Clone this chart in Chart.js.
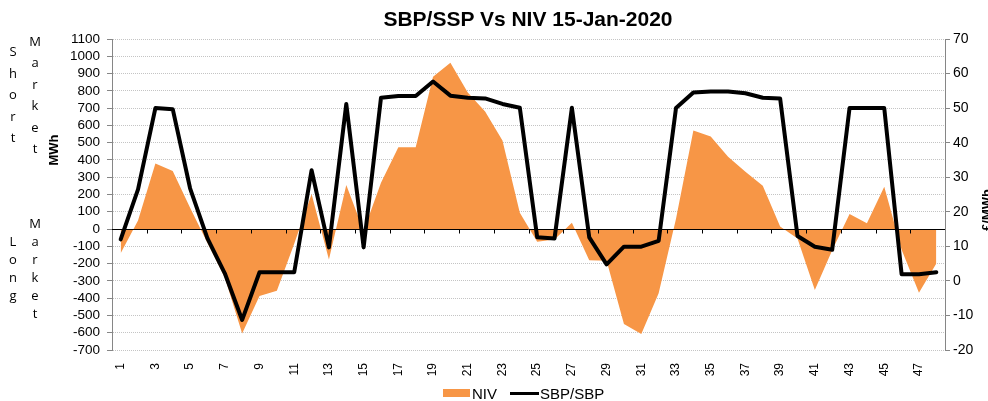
<!DOCTYPE html>
<html>
<head>
<meta charset="utf-8">
<script src="https://cdn.jsdelivr.net/npm/chart.js@4.4.1/dist/chart.umd.min.js"></script>
<style>
  body { margin: 0; background: #fff; font-family: "Liberation Sans", Arial, sans-serif; }
  .wrap { position: relative; width: 988px; height: 401px; overflow: hidden; }
  .title { position: absolute; top: 7px; left: 0; width: 1056px; text-align: center; font-weight: bold; font-size: 21px; line-height: 24px; color: #000; }
  .side { position: absolute; width: 20px; text-align: center; font-size: 13px; color: #000; font-family: "Open Sans", sans-serif; }
  .legend { position: absolute; top: 384px; left: 443px; height: 18px; display: flex; align-items: center; font-size: 15px; color: #000; }
  .swatch { width: 27px; height: 8px; background: #f79646; margin-right: 2px; }
  .dash { width: 29px; height: 3px; background: #000; margin-left: 13px; margin-right: 1px; }
</style>
</head>
<body>
<div class="wrap">
  <canvas id="chart" width="988" height="401"></canvas>
  <div class="title">SBP/SSP Vs NIV 15-Jan-2020</div>
  <!-- short / long market notes, stacked letter by letter like the original -->
  <div class="side" style="left:3px;top:41px;line-height:21.5px">S<br>h<br>o<br>r<br>t</div>
  <div class="side" style="left:25px;top:31px;line-height:21.4px">M<br>a<br>r<br>k<br>e<br>t</div>
  <div class="side" style="left:3px;top:232px;line-height:18px">L<br>o<br>n<br>g</div>
  <div class="side" style="left:25px;top:214px;line-height:18px">M<br>a<br>r<br>k<br>e<br>t</div>
  <div class="legend">
    <div class="swatch"></div><span>NIV</span>
    <div class="dash"></div><span>SBP/SBP</span>
  </div>
</div>
<script>
// settlement periods
const periods = [1, 2, 3, 4, 5, 6, 7, 8, 9, 10, 11, 12, 13, 14, 15, 16, 17, 18, 19, 20, 21, 22, 23, 24,
                 25, 26, 27, 28, 29, 30, 31, 32, 33, 34, 35, 36, 37, 38, 39, 40, 41, 42, 43, 44, 45, 46, 47, 48];

// net imbalance volume, MWh (left axis)
const niv = [-140, 50, 380, 336, 124, -80, -280, -604, -388, -357, -85, 203,
             -176, 255, -10, 268, 473, 473, 882, 963, 790, 680, 512, 95,
             -73, -60, 37, -180, -183, -550, -608, -372, 60, 570, 535, 419,
             332, 251, 15, -54, -353, -122, 87, 33, 245, -120, -369, -200];

// system price, £/MWh (right axis)
const sbp = [12, 26.5, 50, 49.7, 26.8, 12.3, 2.2, -11.3, 2.5, 2.5, 2.5, 32,
             9.7, 51.2, 9.7, 53, 53.5, 53.5, 57.7, 53.6, 53, 52.8, 51.2, 50.1,
             12.6, 12.3, 50.1, 12.6, 4.8, 9.9, 9.9, 11.6, 50, 54.5, 54.8, 54.8,
             54.3, 53, 52.8, 13, 9.9, 9, 50, 50, 50, 1.9, 1.9, 2.5];

// axis ranges
const mwhMin = -700, mwhMax = 1100, mwhStep = 100;
const priceMin = -20, priceMax = 70, priceStep = 10;

const font = 'Liberation Sans, Arial, sans-serif';

// zero line with the little category ticks, drawn over the area
const extras = {
    id: 'extras',
    afterDatasetDraw(chart, args) {
        if (args.index !== 0) return;
        const { ctx, chartArea } = chart;
        const y0 = Math.round(chart.scales.y.getPixelForValue(0)) + 0.5;
        const step = (chartArea.right - chartArea.left) / periods.length;
        ctx.save();
        ctx.strokeStyle = '#000';
        ctx.lineWidth = 1;
        ctx.beginPath();
        ctx.moveTo(chartArea.left, y0);
        ctx.lineTo(chartArea.right, y0);
        for (let k = 2; k < periods.length; k += 2) {
            const x = Math.round(chartArea.left + k * step) + 0.5;
            ctx.moveTo(x, y0);
            ctx.lineTo(x, y0 + 4);
        }
        ctx.stroke();
        ctx.restore();
    },
    afterDraw(chart) {
        const ctx = chart.ctx;
        ctx.save();
        ctx.fillStyle = '#000';
        ctx.font = 'bold 13px ' + font;
        ctx.textAlign = 'center';
        ctx.textBaseline = 'top';
        ctx.translate(48, 150);
        ctx.rotate(-Math.PI / 2);
        ctx.fillText('MWh', 0, 0);
        ctx.restore();

        ctx.save();
        ctx.fillStyle = '#000';
        ctx.font = 'bold 13px ' + font;
        ctx.textAlign = 'center';
        ctx.textBaseline = 'top';
        ctx.translate(981, 210);
        ctx.rotate(-Math.PI / 2);
        ctx.fillText('£/MWh', 0, 0);
        ctx.restore();
    }
};

new Chart(document.getElementById('chart'), {
    data: {
        labels: periods,
        datasets: [
            {
                type: 'line',
                label: 'NIV',
                data: niv,
                yAxisID: 'y',
                backgroundColor: '#f79646',
                borderWidth: 0,
                pointRadius: 0,
                fill: 'origin',
                tension: 0,
                order: 2
            },
            {
                type: 'line',
                label: 'SBP/SBP',
                data: sbp,
                yAxisID: 'y1',
                borderColor: '#000',
                borderWidth: 4,
                borderJoinStyle: 'round',
                borderCapStyle: 'round',
                pointRadius: 0,
                fill: false,
                tension: 0,
                order: 1
            }
        ]
    },
    options: {
        responsive: false,
        animation: false,
        layout: { padding: { top: 39, left: 0, right: 0, bottom: 0 } },
        plugins: {
            legend: { display: false },
            tooltip: { enabled: false }
        },
        scales: {
            x: {
                type: 'category',
                offset: true,
                grid: { display: false },
                border: { display: false },
                ticks: {
                    autoSkip: false,
                    minRotation: 90,
                    maxRotation: 90,
                    padding: 5,
                    color: '#000',
                    font: { family: font, size: 12 },
                    callback: (v, i) => (i % 2 === 0 ? periods[i] : '')
                },
                afterFit: s => { s.height = 51; }
            },
            y: {
                position: 'left',
                min: mwhMin,
                max: mwhMax,
                ticks: {
                    stepSize: mwhStep,
                    autoSkip: false,
                    padding: 7,
                    color: '#000',
                    font: { family: font, size: 13.5 },
                    callback: v => String(v)
                },
                grid: {
                    color: '#c4c4c4',
                    tickColor: '#868686',
                    tickLength: 5
                },
                border: { color: '#868686', width: 1, dash: [1, 1] },
                afterFit: s => { s.width = 112; }
            },
            y1: {
                position: 'right',
                min: priceMin,
                max: priceMax,
                ticks: {
                    stepSize: priceStep,
                    autoSkip: false,
                    padding: 3,
                    color: '#000',
                    font: { family: font, size: 14 },
                    callback: v => String(v)
                },
                grid: {
                    drawOnChartArea: false,
                    tickColor: '#868686',
                    tickLength: 5
                },
                border: { color: '#868686', width: 1 },
                afterFit: s => { s.width = 43; }
            }
        }
    },
    plugins: [extras]
});
</script>
</body>
</html>
